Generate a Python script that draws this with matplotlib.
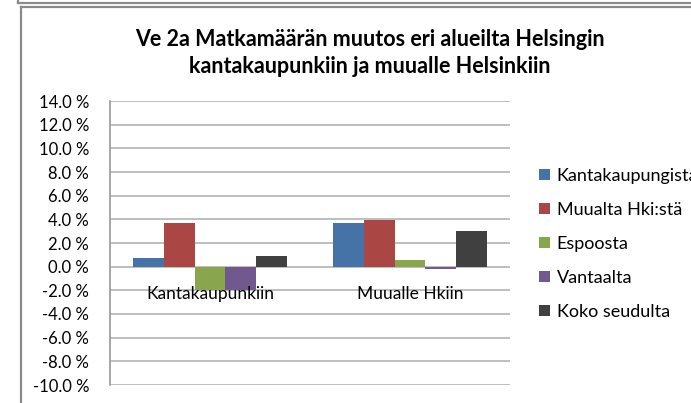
import matplotlib
matplotlib.use("Agg")
import matplotlib.pyplot as plt
from matplotlib.lines import Line2D
from matplotlib.patches import Patch
import numpy as np

plt.rcParams["font.family"] = ["Lato", "DejaVu Sans"]

TITLE = "Ve 2a Matkamäärän muutos eri alueilta Helsingin\nkantakaupunkiin ja muualle Helsinkiin"

categories = ["Kantakaupunkiin", "Muualle Hkiin"]
series_names = ["Kantakaupungista", "Muualta Hki:stä", "Espoosta", "Vantaalta", "Koko seudulta"]
# values in percent, per series: [Kantakaupunkiin, Muualle Hkiin]
kantakaupungista = [0.75, 3.65]
muualta_hki = [3.65, 3.95]
espoosta = [-1.95, 0.55]
vantaalta = [-1.95, -0.2]
koko_seudulta = [0.9, 3.05]
series_values = [kantakaupungista, muualta_hki, espoosta, vantaalta, koko_seudulta]

y_ticks = [-10, -8, -6, -4, -2, 0, 2, 4, 6, 8, 10, 12, 14]
y_tick_labels = ["-10.0 %", "-8.0 %", "-6.0 %", "-4.0 %", "-2.0 %", "0.0 %", "2.0 %",
                 "4.0 %", "6.0 %", "8.0 %", "10.0 %", "12.0 %", "14.0 %"]

colors = ["#4572A7", "#AA4643", "#89A54E", "#71588F", "#404040"]

W, H = 691, 403
fig = plt.figure(figsize=(W / 100, H / 100), dpi=100)

# chart frame lines (screenshot borders)
border = "#8a8a8a"
fig.add_artist(Line2D([18 / W, 1], [1 - 3 / H, 1 - 3 / H], color=border, lw=1.6))
fig.add_artist(Line2D([18 / W, 18 / W], [1, 1 - 3 / H], color=border, lw=1.6))
fig.add_artist(Line2D([21 / W, 1], [1 - 7 / H, 1 - 7 / H], color=border, lw=1.6))
fig.add_artist(Line2D([21 / W, 21 / W], [0, 1 - 7 / H], color=border, lw=1.6))

fig.text(370 / W, 1 - 53 / H, TITLE, ha="center", va="center", fontsize=15.5,
         fontweight="bold", linespacing=1.3)

ax = fig.add_axes([110 / W, 18 / H, 400 / W, 284 / H])
x = np.arange(len(categories))
bar_w = 0.154
for i, (name, vals, c) in enumerate(zip(series_names, series_values, colors)):
    ax.bar(x + (i - 2) * bar_w, vals, width=bar_w, color=c, label=name, zorder=3)

ax.set_xlim(-0.5, 1.5)
ax.set_ylim(-10, 14)
ax.set_yticks(y_ticks)
ax.set_yticklabels(y_tick_labels, fontsize=12)
ax.tick_params(axis="y", length=0, pad=15)
ax.set_xticks([])
ax.yaxis.grid(True, color="#b3b3b3", lw=1.2, zorder=0)
for s in ["top", "right", "bottom"]:
    ax.spines[s].set_visible(False)
ax.spines["left"].set_color("#9a9a9a")
ax.spines["left"].set_linewidth(1.2)

for xi, cat in zip(x, categories):
    ax.text(xi, -2.3, cat, ha="center", va="center", fontsize=12.5, zorder=4)

handles = [Patch(facecolor=c, edgecolor="none") for c in colors]
fig.legend(handles, series_names, loc="center left", bbox_to_anchor=(534 / W, 1 - 244 / H),
           frameon=False, fontsize=13, handlelength=0.6, handleheight=0.6,
           handletextpad=0.35, labelspacing=1.0, borderaxespad=0, borderpad=0.3)

fig.savefig("out.png", dpi=100)
